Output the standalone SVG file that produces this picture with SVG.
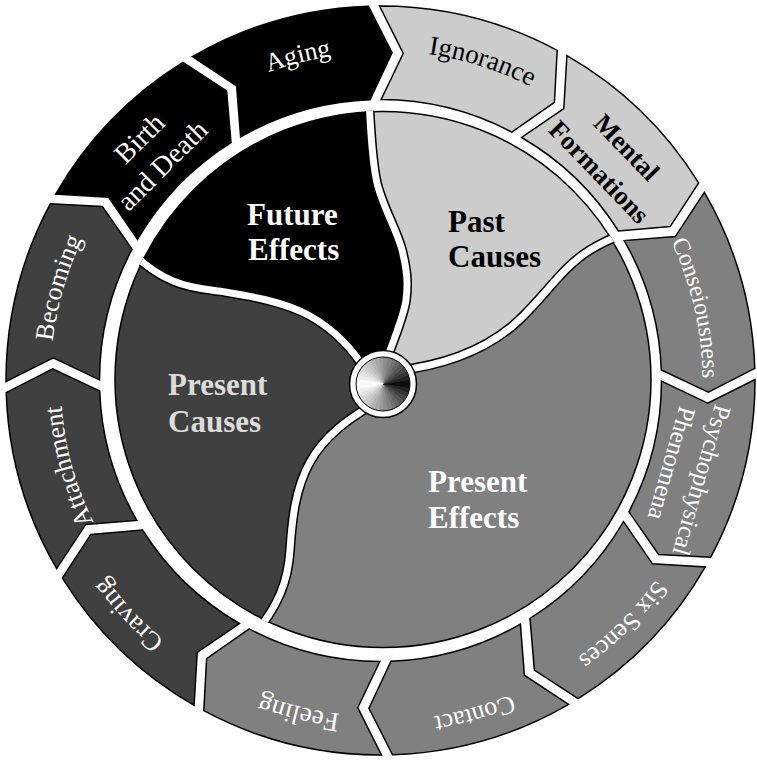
<svg xmlns="http://www.w3.org/2000/svg" xmlns:xlink="http://www.w3.org/1999/xlink" width="757" height="760" viewBox="0 0 757 760">
<style>
.seg{stroke:#000;stroke-width:1.5;stroke-linejoin:miter}
.lt{fill:#cccccc}.md{fill:#808080}.dk{fill:#404040}.bk{fill:#000000}
.lbl{font-family:"Liberation Serif","Times New Roman",serif}
.w{fill:#ffffff}.b{fill:#000000}
.in{font-family:"Liberation Serif","Times New Roman",serif;font-weight:bold;font-size:31px}
</style>
<defs>
<path id="seg" d="M5.56,-374.46 A374.5,374.5 0 0 1 182.42,-327.07 L178.74,-275.02 L135.63,-246.10 A281,281 0 0 0 5.59,-280.94 L28.47,-326.76 Z"/>
<path id="c320" d="M380.5,60.5 A320,320 0 1 1 380.5,700.5 A320,320 0 1 1 380.5,60.5" fill="none"/>
<path id="c322" d="M380.5,58.5 A322,322 0 1 1 380.5,702.5 A322,322 0 1 1 380.5,58.5" fill="none"/>
<path id="c328" d="M380.5,52.5 A328,328 0 1 1 380.5,708.5 A328,328 0 1 1 380.5,52.5" fill="none"/>
<path id="c330" d="M380.5,50.5 A330,330 0 1 1 380.5,710.5 A330,330 0 1 1 380.5,50.5" fill="none"/>
<path id="c336" d="M380.5,44.5 A336,336 0 1 1 380.5,716.5 A336,336 0 1 1 380.5,44.5" fill="none"/>
<path id="c338" d="M380.5,42.5 A338,338 0 1 1 380.5,718.5 A338,338 0 1 1 380.5,42.5" fill="none"/>
<path id="c340" d="M380.5,40.5 A340,340 0 1 1 380.5,720.5 A340,340 0 1 1 380.5,40.5" fill="none"/>
<clipPath id="disk"><circle cx="383" cy="379.5" r="268"/></clipPath>
<clipPath id="disk2"><circle cx="383" cy="379.5" r="269"/></clipPath>
<clipPath id="hubclip"><circle cx="0" cy="0" r="27"/></clipPath>
<path id="dA" d="M369,100 C370,118 371.5,159.3 377,183 C382.5,206.7 397.2,230.5 402,250 C406.8,269.5 408.3,282.5 406,300 C403.7,317.5 391,345.8 386,362"/>
<path id="dB" d="M395,371 C440,366 480,352 510,328 C540,304 560,268 590,250 C620,232 625,236 640,234"/>
<path id="dC" d="M372,405 C350,418 325,435 310,462 C295,489 292,520 290,550 C288,580 280,605 250,640"/>
<path id="dD" d="M368,374 C355,352 335,330 310,316 C285,302 250,296 225,292 C200,288 165,290 125,245"/>
<g id="hubHalf" stroke-width="0.8">
<polygon points="0,0 30,0 29.54,5.21" fill="#0f0f0f" stroke="#0f0f0f"/>
<polygon points="0,0 29.54,5.21 28.19,10.26" fill="#232323" stroke="#232323"/>
<polygon points="0,0 28.19,10.26 25.98,15" fill="#353535" stroke="#353535"/>
<polygon points="0,0 25.98,15 22.98,19.28" fill="#454545" stroke="#454545"/>
<polygon points="0,0 22.98,19.28 19.28,22.98" fill="#545454" stroke="#545454"/>
<polygon points="0,0 19.28,22.98 15,25.98" fill="#636363" stroke="#636363"/>
<polygon points="0,0 15,25.98 10.26,28.19" fill="#717171" stroke="#717171"/>
<polygon points="0,0 10.26,28.19 5.21,29.54" fill="#7f7f7f" stroke="#7f7f7f"/>
<polygon points="0,0 5.21,29.54 0,30" fill="#8c8c8c" stroke="#8c8c8c"/>
<polygon points="0,0 0,30 -5.21,29.54" fill="#999999" stroke="#999999"/>
<polygon points="0,0 -5.21,29.54 -10.26,28.19" fill="#a6a6a6" stroke="#a6a6a6"/>
<polygon points="0,0 -10.26,28.19 -15,25.98" fill="#b2b2b2" stroke="#b2b2b2"/>
<polygon points="0,0 -15,25.98 -19.28,22.98" fill="#bfbfbf" stroke="#bfbfbf"/>
<polygon points="0,0 -19.28,22.98 -22.98,19.28" fill="#cbcbcb" stroke="#cbcbcb"/>
<polygon points="0,0 -22.98,19.28 -25.98,15" fill="#d7d7d7" stroke="#d7d7d7"/>
<polygon points="0,0 -25.98,15 -28.19,10.26" fill="#e2e2e2" stroke="#e2e2e2"/>
<polygon points="0,0 -28.19,10.26 -29.54,5.21" fill="#eeeeee" stroke="#eeeeee"/>
<polygon points="0,0 -29.54,5.21 -30,0" fill="#f9f9f9" stroke="#f9f9f9"/>
</g>
</defs>
<rect width="757" height="760" fill="#ffffff"/>

<g id="outer-ring">
<g id="ignorance"><use href="#seg" class="seg lt" transform="translate(380.5,380.5) rotate(-1)"/>
<text class="lbl b" font-size="27" text-anchor="middle"><textPath href="#c330" startOffset="4.92%">Ignorance</textPath></text></g>
<g id="mental-formations"><use href="#seg" class="seg lt" transform="translate(380.5,380.5) rotate(29)"/>
<text class="lbl b" font-size="26.5" font-weight="bold" text-anchor="middle" transform="translate(626,148) rotate(46)" dy="0.3em">Mental</text>
<text class="lbl b" font-size="26.5" font-weight="bold" text-anchor="middle" transform="translate(598.5,172.5) rotate(46)" dy="0.3em">Formations</text></g>
<g id="consciousness"><use href="#seg" class="seg md" transform="translate(380.5,380.5) rotate(59)"/>
<text class="lbl w" font-size="24" text-anchor="middle"><textPath href="#c322" startOffset="21.4%">Conseiousness</textPath></text></g>
<g id="psychophysical-phenomena"><use href="#seg" class="seg md" transform="translate(380.5,380.5) rotate(89)"/>
<text class="lbl w" font-size="25" text-anchor="middle" transform="translate(701,480) rotate(106)" dy="0.3em">Psychophysical</text>
<text class="lbl w" font-size="25" text-anchor="middle" transform="translate(671,463) rotate(106)" dy="0.3em">Phenomena</text></g>
<g id="six-sences"><use href="#seg" class="seg md" transform="translate(380.5,380.5) rotate(119)"/>
<text class="lbl w" font-size="25.5" text-anchor="middle"><textPath href="#c340" startOffset="37.56%">Six Sences</textPath></text></g>
<g id="contact"><use href="#seg" class="seg md" transform="translate(380.5,380.5) rotate(149)"/>
<text class="lbl w" font-size="26" text-anchor="middle"><textPath href="#c340" startOffset="45.61%">Contact</textPath></text></g>
<g id="feeling"><use href="#seg" class="seg md" transform="translate(380.5,380.5) rotate(179)"/>
<text class="lbl w" font-size="27" text-anchor="middle"><textPath href="#c336" startOffset="53.86%">Feeling</textPath></text></g>
<g id="craving"><use href="#seg" class="seg dk" transform="translate(380.5,380.5) rotate(209)"/>
<text class="lbl w" font-size="27" text-anchor="middle"><textPath href="#c338" startOffset="63.08%">Craving</textPath></text></g>
<g id="attachment"><use href="#seg" class="seg dk" transform="translate(380.5,380.5) rotate(239)"/>
<text class="lbl w" font-size="26" text-anchor="middle"><textPath href="#c320" startOffset="70.72%">Attachment</textPath></text></g>
<g id="becoming"><use href="#seg" class="seg dk" transform="translate(380.5,380.5) rotate(269)"/>
<text class="lbl w" font-size="26" text-anchor="middle"><textPath href="#c330" startOffset="79.47%">Becoming</textPath></text></g>
<g id="birth-and-death"><use href="#seg" class="seg bk" transform="translate(380.5,380.5) rotate(299)"/>
<text class="lbl w" font-size="28" text-anchor="middle" transform="translate(140,139) rotate(-45)" dy="0.3em">Birth</text>
<text class="lbl w" font-size="28" text-anchor="middle" transform="translate(163,166) rotate(-45)" dy="0.3em">and Death</text></g>
<g id="aging"><use href="#seg" class="seg bk" transform="translate(380.5,380.5) rotate(329)"/>
<text class="lbl w" font-size="26" text-anchor="middle"><textPath href="#c328" startOffset="96.03%">Aging</textPath></text></g>
</g>

<g id="inner-regions">
<g clip-path="url(#disk)">
<path id="region-past-causes" class="lt" d="M383,384 L395,371 C440,366 480,352 510,328 C540,304 560,268 590,250 C620,232 625,236 640,234 L700,150 L420,60 L369,60 L369,100 C370,118 371.5,159.3 377,183 C382.5,206.7 397.2,230.5 402,250 C406.8,269.5 408.3,282.5 406,300 C403.7,317.5 391,345.8 386,362 Z"/>
<path id="region-present-effects" class="md" d="M383,384 L372,405 C350,418 325,435 310,462 C295,489 292,520 290,550 C288,580 280,605 250,640 L150,720 L740,740 L740,300 L640,234 C625,236 620,232 590,250 C560,268 540,304 510,328 C480,352 440,366 395,371 Z"/>
<path id="region-present-causes" class="dk" d="M383,384 L368,374 C355,352 335,330 310,316 C285,302 250,296 225,292 C200,288 165,290 125,245 L40,200 L40,700 L250,640 C280,605 288,580 290,550 C292,520 295,489 310,462 C325,435 350,418 372,405 Z"/>
<path id="region-future-effects" class="bk" d="M383,384 L386,362 C391,345.8 403.7,317.5 406,300 C408.3,282.5 406.8,269.5 402,250 C397.2,230.5 382.5,206.7 377,183 C371.5,159.3 370,118 369,100 L369,60 L300,60 L40,200 L125,245 C165,290 200,288 225,292 C250,296 285,302 310,316 C335,330 355,352 368,374 Z"/>
</g>
<circle cx="383" cy="379.5" r="268" fill="none" stroke="#000" stroke-width="1.5"/>
</g>

<g id="dividers" clip-path="url(#disk2)" fill="none">
<g stroke="#000" stroke-width="10">
<use href="#dA"/><use href="#dB"/><use href="#dC"/><use href="#dD"/>
</g>
<g stroke="#fff" stroke-width="7">
<use href="#dA"/><use href="#dB"/><use href="#dC"/><use href="#dD"/>
</g>
</g>

<g id="future-effects"><text class="in" fill="#ffffff"><tspan x="247" y="225">Future</tspan><tspan x="248" y="260">Effects</tspan></text></g>
<g id="past-causes"><text class="in" fill="#000000"><tspan x="448" y="232">Past</tspan><tspan x="448" y="267">Causes</tspan></text></g>
<g id="present-causes"><text class="in" fill="#dcdcdc"><tspan x="168" y="395">Present</tspan><tspan x="168" y="432">Causes</tspan></text></g>
<g id="present-effects"><text class="in" fill="#ffffff"><tspan x="428" y="492">Present</tspan><tspan x="428" y="528">Effects</tspan></text></g>

<g id="hub">
<circle cx="383" cy="384" r="33.5" fill="#ffffff" stroke="#000" stroke-width="1.5"/>
<g transform="translate(383,384)">
<g clip-path="url(#hubclip)">
<use href="#hubHalf"/>
<use href="#hubHalf" transform="scale(1,-1)"/>
</g>
<circle cx="0" cy="0" r="27" fill="none" stroke="#000" stroke-width="1"/>
</g>
</g>
</svg>
